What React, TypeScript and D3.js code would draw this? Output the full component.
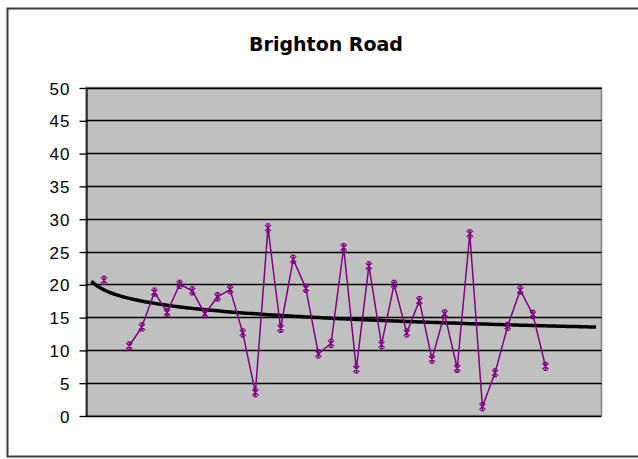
import React, { useEffect, useRef } from "react";
import * as d3 from "d3";

// readings per sample, index 1 is blank
const readings: (number | null)[] = [
  20.6, null, 10.6, 13.5, 18.8, 15.7, 20.0, 19.0, 15.5, 18.1,
  19.2, 12.6, 3.5, 28.6, 13.3, 23.8, 19.4, 9.4, 11.0, 25.6,
  7.1, 22.8, 10.8, 20.0, 12.6, 17.5, 8.6, 15.5, 7.2, 27.7,
  1.35, 6.5, 13.6, 19.1, 15.4, 7.5,
];
const yTicks = [0, 5, 10, 15, 20, 25, 30, 35, 40, 45, 50];
const title = "Brighton Road";
// categories on the axis: one blank before the data, four blank after
const leadBlanks = 1;
const tailBlanks = 4;

const W = 638;
const H = 459;

const App: React.FC = () => {
  const svgRef = useRef<SVGSVGElement | null>(null);

  useEffect(() => {
    if (!svgRef.current) return;
    const svg = d3.select(svgRef.current);
    svg.selectAll("*").remove();

    const plot = { left: 86, right: 601.5, top: 87.5, bottom: 415.5 };
    const nCat = leadBlanks + readings.length + tailBlanks; // t = 1..nCat

    const x = d3.scaleLinear()
      .domain([0.573, nCat + 0.44])
      .range([plot.left, plot.right]);
    const y = d3.scaleLinear()
      .domain([0, 50])
      .range([plot.bottom, plot.top]);

    // outer chart frame (right edge runs off the picture)
    svg.append("rect")
      .attr("x", 7.5).attr("y", 8.5)
      .attr("width", 640).attr("height", 448)
      .attr("fill", "#fff").attr("stroke", "#3a3a3a").attr("stroke-width", 2);

    svg.append("text")
      .attr("x", 326).attr("y", 51)
      .attr("text-anchor", "middle")
      .style("font-family", "'DejaVu Sans', Verdana, sans-serif")
      .style("font-size", "19px")
      .style("font-weight", "bold")
      .text(title);

    svg.append("rect")
      .attr("x", plot.left).attr("y", plot.top)
      .attr("width", plot.right - plot.left).attr("height", plot.bottom - plot.top)
      .attr("fill", "#c0c0c0").attr("stroke", "#808080").attr("stroke-width", 1.5);

    // gridlines
    svg.append("g").selectAll("line")
      .data(yTicks.slice(1))
      .enter().append("line")
      .attr("x1", plot.left).attr("x2", plot.right)
      .attr("y1", d => Math.round(y(d)) + 0.5).attr("y2", d => Math.round(y(d)) + 0.5)
      .attr("stroke", "#000").attr("stroke-width", 1.3);

    // y axis
    const axis = svg.append("g")
      .attr("transform", `translate(${plot.left + 0.5},0.5)`)
      .call(d3.axisLeft(y).tickValues(yTicks).tickSize(7).tickPadding(9).tickSizeOuter(0));
    axis.select(".domain").attr("stroke", "#000").attr("stroke-width", 1.3);
    axis.selectAll(".tick line").attr("stroke", "#000").attr("stroke-width", 1.3);
    axis.selectAll(".tick text")
      .attr("fill", "#000")
      .attr("dy", "0.36em")
      .style("font-family", "Arial, 'Liberation Sans', sans-serif")
      .style("font-size", "17px")
      .style("letter-spacing", "1px");

    // x axis baseline
    svg.append("line")
      .attr("x1", plot.left).attr("x2", plot.right)
      .attr("y1", Math.round(y(0)) + 0.5).attr("y2", Math.round(y(0)) + 0.5)
      .attr("stroke", "#000").attr("stroke-width", 1.3);

    // logarithmic trendline fitted to the readings, t = category number
    const pts = readings
      .map((v, i) => ({ t: i + 1 + leadBlanks, v }))
      .filter(p => p.v !== null) as { t: number; v: number }[];
    const lm = d3.mean(pts, p => Math.log(p.t))!;
    const vm = d3.mean(pts, p => p.v)!;
    const sxy = d3.sum(pts, p => (Math.log(p.t) - lm) * (p.v - vm));
    const sxx = d3.sum(pts, p => (Math.log(p.t) - lm) ** 2);
    const b = sxy / sxx;
    const a = vm - b * lm;
    const ts = d3.range(1, nCat + 0.001, 0.25);

    svg.append("path")
      .datum(ts)
      .attr("fill", "none")
      .attr("stroke", "#000")
      .attr("stroke-width", 3.5)
      .attr("d", d3.line<number>().x(t => x(t)).y(t => y(a + b * Math.log(t))));

    // series line
    const series = readings.map((v, i) => ({ t: i + 1 + leadBlanks, v }));
    svg.append("path")
      .datum(series)
      .attr("fill", "none")
      .attr("stroke", "#800080")
      .attr("stroke-width", 1.5)
      .attr("d", d3.line<{ t: number; v: number | null }>()
        .defined(d => d.v !== null)
        .x(d => x(d.t))
        .y(d => y(d.v as number)));

    // star markers
    svg.append("g").selectAll("path")
      .data(pts)
      .enter().append("path")
      .attr("transform", d => `translate(${x(d.t)},${y(d.v)})`)
      .attr("d", "M-3,-3L3,3M-3,3L3,-3M0,-4L0,4M-2,-4L2,-4M-2,4L2,4")
      .attr("fill", "none")
      .attr("stroke", "#800080")
      .attr("stroke-width", 1.3);
  }, []);

  return (
    <svg
      ref={svgRef}
      width={W}
      height={H}
      style={{ position: "absolute", left: 0, top: 0, background: "#fff" }}
    />
  );
};

export default App;
